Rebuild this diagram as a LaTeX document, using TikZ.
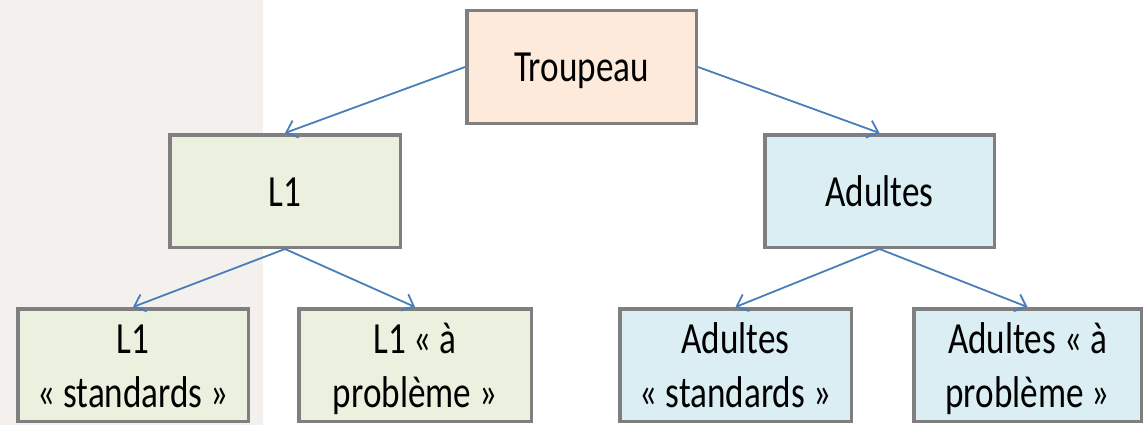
\documentclass[tikz,border=0pt]{standalone}
\usepackage{fontspec}
\setmainfont[FakeStretch=0.79]{Carlito}
\usetikzlibrary{arrows.meta}
\definecolor{bgleft}{HTML}{F3F0ED}
\definecolor{peach}{HTML}{FDEADA}
\definecolor{lgreen}{HTML}{EBF1DE}
\definecolor{lblue}{HTML}{DBEEF4}
\definecolor{bordergray}{HTML}{7F7F7F}
\definecolor{arrowblue}{HTML}{4A7EBB}
\newcommand\hstr{\rule{0pt}{41pt}}
\newcommand\dstr{\rule[-11pt]{0pt}{11pt}}
\tikzset{
  boxnode/.style={draw=bordergray, line width=3.5pt, inner sep=0pt,
    minimum height=112.5pt, align=center,
    font=\fontsize{44.5}{54}\selectfont},
  conn/.style={draw=arrowblue, line width=1.8pt,
    -{Straight Barb[length=10pt,width=18pt,line width=1.8pt]}}
}
\begin{document}
\begin{tikzpicture}[x=1pt,y=-1pt]
\useasboundingbox (0,0) rectangle (1147,425);
\fill[white] (0,0) rectangle (1147,425);
\fill[bgleft] (0,0) rectangle (263,425);
\node[boxnode, fill=peach, minimum width=229.5pt] (tr) at (581.5,67) {\hstr Troupeau\dstr};
\node[boxnode, fill=lgreen, minimum width=230.5pt] (l1) at (285,191) {\hstr L1\dstr};
\node[boxnode, fill=lblue, minimum width=229.5pt] (ad) at (879.5,191) {\hstr Adultes\dstr};
\node[boxnode, fill=lgreen, minimum width=230.5pt] (l1s) at (133,365) {\hstr L1\\« standards »\dstr};
\node[boxnode, fill=lgreen, minimum width=232.5pt] (l1p) at (415,365) {\hstr L1 « à\\problème »\dstr};
\node[boxnode, fill=lblue, minimum width=231.5pt] (ads) at (735.5,365) {\hstr Adultes\\« standards »\dstr};
\node[boxnode, fill=lblue, minimum width=227.5pt] (adp) at (1027.5,365) {\hstr Adultes « à\\problème »\dstr};
\draw[conn] (tr.west) -- (l1.north);
\draw[conn] (tr.east) -- (ad.north);
\draw[conn] (l1.south) -- (l1s.north);
\draw[conn] (l1.south) -- (l1p.north);
\draw[conn] (ad.south) -- (ads.north);
\draw[conn] (ad.south) -- (adp.north);
\end{tikzpicture}
\end{document}
